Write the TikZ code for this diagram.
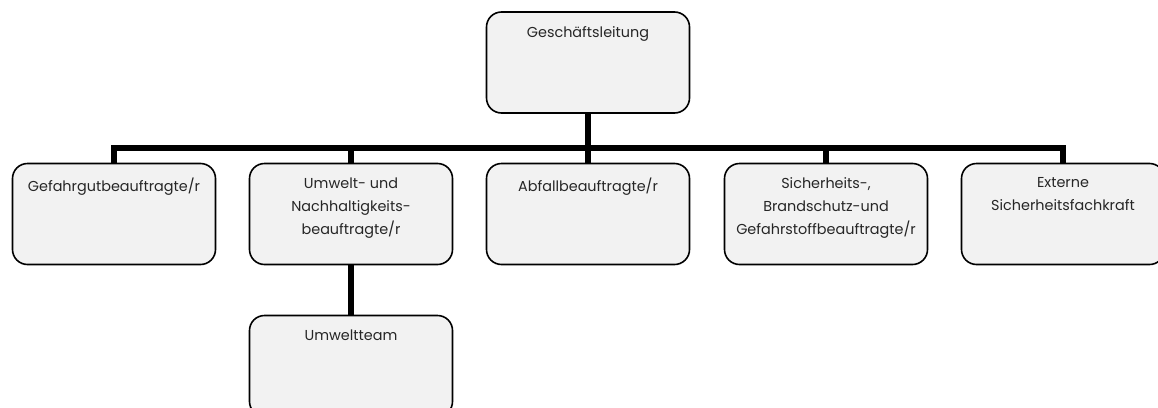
\documentclass[tikz,border=0pt]{standalone}
\usepackage{fontspec}
\setmainfont{Poppins}
\begin{document}
\begin{tikzpicture}[x=1pt,y=-1pt,
  box/.style={draw=black, line width=1.6pt, fill=boxgray, rounded corners=15pt,
    minimum width=203pt, minimum height=101pt, inner sep=0pt},
  lbl/.style={anchor=north, align=center, inner sep=0pt, text=black!85,
    font=\fontsize{14.4}{23}\selectfont},
  conn/.style={draw=black, line width=6pt, line join=miter}]
\definecolor{boxgray}{HTML}{F2F2F2}
\useasboundingbox (0,0) rectangle (1158,407);
\clip (0,0) rectangle (1158,407);
\node[box] (top) at (588,62.5) {};
\node[box] (b1) at (114,214) {};
\node[box] (b2) at (351,214) {};
\node[box] (b3) at (588,214) {};
\node[box] (b4) at (826,214) {};
\node[box] (b5) at (1063,214) {};
\node[box] (b6) at (351,366) {};
\coordinate (bar) at (588,148);
\draw[conn] (top.south) -- (bar);
\draw[conn] (b1.north) |- (bar);
\draw[conn] (b2.north) |- (bar);
\draw[conn] (b3.north) -- (bar);
\draw[conn] (b5.north) |- (bar);
\draw[conn] (b4.north) |- (bar);
\draw[conn] (b2.south) -- (b6.north);
\node[lbl] (t0) at ([yshift=-15pt]top.north) {Geschäftsleitung};
\node[lbl] (t1) at ([yshift=-15pt]b1.north) {Gefahrgutbeauftragte/r};
\node[lbl] (t2) at ([yshift=-15pt]b2.north) {Umwelt- und\\Nachhaltigkeits-\\beauftragte/r};
\node[lbl] (t3) at ([yshift=-15pt]b3.north) {Abfallbeauftragte/r};
\node[lbl] (t4) at ([yshift=-15pt]b4.north) {Sicherheits-,\\Brandschutz-und\\Gefahrstoffbeauftragte/r};
\node[lbl] (t5) at ([yshift=-15pt]b5.north) {Externe\\Sicherheitsfachkraft};
\node[lbl] (t6) at ([yshift=-15pt]b6.north) {Umweltteam};
\end{tikzpicture}
\end{document}
